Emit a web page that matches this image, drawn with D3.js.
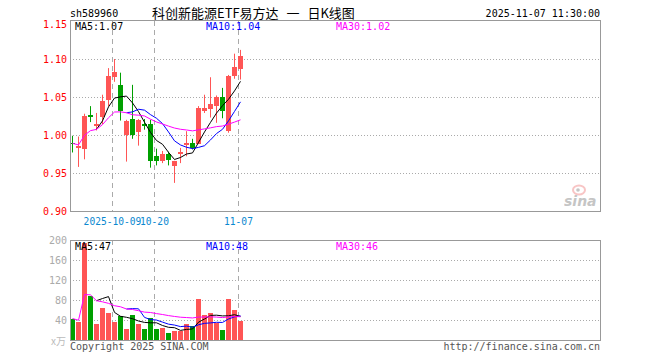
<!DOCTYPE html>
<html><head><meta charset="utf-8">
<script src="https://cdn.jsdelivr.net/npm/d3@7/dist/d3.min.js"></script>
<style>body{margin:0;background:#fff}svg{display:block}</style>
</head><body>
<svg id="c" width="660" height="360"></svg>
<script>
const dates = ["2025-09-22","2025-09-23","2025-09-24","2025-09-25","2025-09-26","2025-09-29","2025-09-30",
"2025-10-09","2025-10-10","2025-10-13","2025-10-14","2025-10-15","2025-10-16","2025-10-17","2025-10-20",
"2025-10-21","2025-10-22","2025-10-23","2025-10-24","2025-10-27","2025-10-28","2025-10-29","2025-10-30",
"2025-10-31","2025-11-03","2025-11-04","2025-11-05","2025-11-06","2025-11-07"];
const open  = [0.990,0.982,0.981,1.026,1.012,1.024,1.046,1.077,1.066,1.000,1.021,1.004,1.015,1.014,0.973,0.966,0.975,0.959,0.976,0.987,0.989,0.989,1.031,1.035,1.038,1.050,1.005,1.078,1.087];
const high  = [0.999,0.998,1.028,1.038,1.029,1.053,1.088,1.100,1.082,1.020,1.066,1.021,1.021,1.020,0.982,0.979,0.978,0.966,0.983,1.005,0.995,1.038,1.053,1.076,1.052,1.062,1.079,1.107,1.112];
const low   = [0.977,0.958,0.968,1.017,1.006,1.014,1.038,1.070,1.019,0.965,0.995,0.986,1.007,0.957,0.960,0.963,0.960,0.937,0.963,0.972,0.981,0.988,1.029,1.023,1.016,1.022,1.003,1.074,1.073];
const close = [0.989,0.985,1.025,1.024,1.014,1.045,1.077,1.083,1.032,1.019,1.000,1.020,1.013,0.965,0.966,0.975,0.967,0.966,0.978,0.989,0.982,1.036,1.035,1.041,1.050,1.031,1.078,1.090,1.104];
const volume = [43,36,194,88,32,65,55,36,49,22,51,32,22,45,22,24,14,18,18,32,28,82,50,54,34,21,83,61,37];
const priceTicks = [1.15,1.10,1.05,1.00,0.95,0.90];
const volTicks = [200,160,120,80,40];
const volUnitLabel = "x万";
const dateTicks = [{date:"2025-10-09",label:"2025-10-09"},{date:"2025-10-20",label:"10-20"},{date:"2025-11-07",label:"11-07"}];
const maPeriods = [5,10,30];
const maColors = ["#000000","#0000ff","#ff00ff"];
const titleCode = "sh589960";
const titleText = "科创新能源ETF易方达 一 日K线图";
const timeText = "2025-11-07 11:30:00";

const UP = "#ff5555", DOWN = "#00a000", GRID = "#aaaaaa", BORDER = "#999999";
const mono = "'DejaVu Sans Mono', monospace";
const svg = d3.select("#c");

const L = 70, R = 600;
const x = d3.scaleBand().domain(dates).range([L, L + 6*dates.length]).padding(0);
const yP = d3.scaleLinear().domain([0.90,1.15]).range([211,21]);
const yV = d3.scaleLinear().domain([0,200]).range([340,240]);

function ma(arr, n, partial){
  return arr.map((v,i)=>{
    if(i < n-1 && !partial) return null;
    const s = arr.slice(Math.max(0,i-n+1), i+1);
    return d3.mean(s);
  });
}
const cx = d => x(d) + 2.5;

// header
svg.append("text").attr("x",70).attr("y",17).attr("font-family",mono).attr("font-size",10).text(titleCode);
svg.append("text").attr("x",152).attr("y",18).attr("font-family","'Noto Sans CJK SC', sans-serif").attr("font-size",13)
  .attr("word-spacing",5).attr("xml:space","preserve").text(titleText);
svg.append("text").attr("x",600).attr("y",17).attr("text-anchor","end").attr("font-family",mono).attr("font-size",10).text(timeText);

function panel(y0, y1, hTicks, yScale){
  const g = svg.append("g");
  hTicks.forEach(t=>{
    const yy = Math.round(yScale(t)) + 0.5;
    g.append("line").attr("x1",L).attr("x2",R).attr("y1",yy).attr("y2",yy)
      .attr("stroke",GRID).attr("stroke-dasharray","1,2");
  });
  dateTicks.forEach(t=>{
    const xx = Math.round(x(t.date)) + 0.5;
    g.append("line").attr("x1",xx).attr("x2",xx).attr("y1",y0).attr("y2",y1)
      .attr("stroke",GRID).attr("stroke-dasharray","5,4");
  });
  return g;
}

// ---- price panel
panel(21, 211, [1.10,1.05,1.00,0.95], yP);
const sw = svg.append("g");
const cand = dates.map((d,i)=>({d,o:open[i],h:high[i],l:low[i],c:close[i]}));
sw.selectAll("line.w").data(cand).join("line")
  .attr("x1",d=>cx(d.d)).attr("x2",d=>cx(d.d))
  .attr("y1",d=>yP(d.h)).attr("y2",d=>yP(d.l))
  .attr("stroke",d=>d.c>=d.o?UP:DOWN);
sw.selectAll("rect.b").data(cand).join("rect")
  .attr("x",d=>x(d.d)).attr("width",5)
  .attr("y",d=>Math.round(yP(Math.max(d.o,d.c))))
  .attr("height",d=>Math.max(1,Math.round(Math.abs(yP(d.o)-yP(d.c)))))
  .attr("fill",d=>d.c>=d.o?UP:DOWN);

maPeriods.forEach((n,k)=>{
  const m = ma(close, n, n===30);
  const line = d3.line().defined(v=>v!=null).x((v,i)=>cx(dates[i])).y(v=>yP(v));
  svg.append("path").attr("d",line(m)).attr("fill","none").attr("stroke",maColors[k]).attr("stroke-width",1);
});

// ---- volume panel
panel(240, 340, [160,120,80,40], yV);
svg.append("g").selectAll("rect").data(dates).join("rect")
  .attr("x",d=>x(d)).attr("width",5)
  .attr("y",(d,i)=>Math.round(yV(volume[i])))
  .attr("height",(d,i)=>340-Math.round(yV(volume[i])))
  .attr("fill",(d,i)=>close[i]>=open[i]?UP:DOWN);
maPeriods.forEach((n,k)=>{
  const m = ma(volume, n, n===30);
  const line = d3.line().defined(v=>v!=null).x((v,i)=>cx(dates[i])).y(v=>yV(v));
  svg.append("path").attr("d",line(m)).attr("fill","none").attr("stroke",maColors[k]).attr("stroke-width",1);
});

// borders
svg.append("rect").attr("x",L+0.5).attr("y",20.5).attr("width",R-L).attr("height",191).attr("fill","none").attr("stroke",BORDER);
svg.append("rect").attr("x",L+0.5).attr("y",240.5).attr("width",R-L).attr("height",100).attr("fill","none").attr("stroke",BORDER);

// axis labels
priceTicks.forEach(t=>{
  svg.append("text").attr("x",67).attr("y",Math.max(yP(t)+4,28)).attr("text-anchor","end")
    .attr("font-family",mono).attr("font-size",10).attr("fill","#ff0000").text(t.toFixed(2));
});
volTicks.forEach(t=>{
  svg.append("text").attr("x",67).attr("y",yV(t)+4).attr("text-anchor","end")
    .attr("font-family",mono).attr("font-size",10).attr("fill","#aaaaaa").text(t);
});
svg.append("text").attr("x",66).attr("y",345).attr("text-anchor","end")
  .attr("font-family","'Noto Sans CJK SC', sans-serif").attr("font-size",10).attr("fill","#bbbbbb").text(volUnitLabel);
dateTicks.forEach(t=>{
  svg.append("text").attr("x",x(t.date)+0.5).attr("y",225).attr("text-anchor","middle")
    .attr("font-family",mono).attr("font-size",9.6).attr("fill","#0a88d0").text(t.label);
});

// MA legends
const lastMA = arr => maPeriods.map(n=>d3.mean(arr.slice(-n)));
const pm = lastMA(close), vm = lastMA(volume);
const legX = [75,206,336];
maPeriods.forEach((n,k)=>{
  svg.append("text").attr("x",legX[k]).attr("y",30).attr("font-family",mono).attr("font-size",10)
    .attr("fill",maColors[k]).text(`MA${n}:${pm[k].toFixed(2)}`);
  svg.append("text").attr("x",legX[k]).attr("y",250).attr("font-family",mono).attr("font-size",10)
    .attr("fill",maColors[k]).text(`MA${n}:${Math.round(vm[k])}`);
});

// footer
svg.append("text").attr("x",70).attr("y",350).attr("font-family",mono).attr("font-size",10).attr("fill","#555").text("Copyright 2025 SINA.COM");
svg.append("text").attr("x",600).attr("y",350).attr("text-anchor","end").attr("font-family",mono).attr("font-size",10).attr("fill","#555").text("http://finance.sina.com.cn");

// watermark
const wm = svg.append("g").attr("opacity",0.45);
wm.append("ellipse").attr("cx",579).attr("cy",190).attr("rx",6).attr("ry",4.5).attr("fill","none").attr("stroke","#f08080").attr("stroke-width",2);
wm.append("circle").attr("cx",578).attr("cy",190).attr("r",1.8).attr("fill","#808080");
wm.append("text").attr("x",564).attr("y",206).attr("font-family","'DejaVu Sans', sans-serif").attr("font-style","italic").attr("font-weight","bold").attr("font-size",14).attr("fill","#808080").text("sina");
</script>
</body></html>
